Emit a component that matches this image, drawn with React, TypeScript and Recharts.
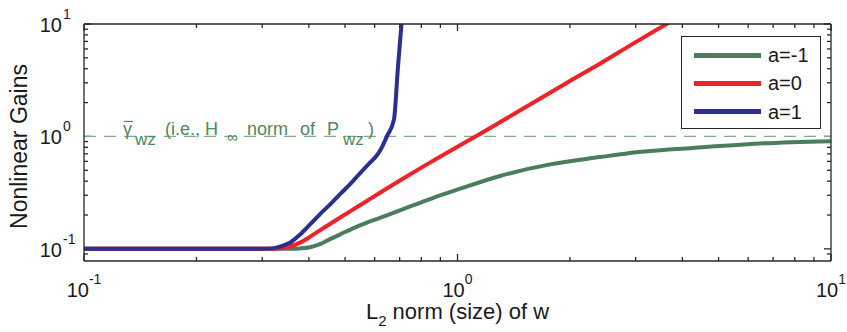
import { Label, Legend, Line, LineChart, ReferenceLine, XAxis, YAxis } from "recharts";

// values (log-log)
const xGreen = [0.1, 0.2, 0.3, 0.35, 0.379, 0.403, 0.428, 0.456, 0.484, 0.548, 0.62, 0.701, 0.794, 0.898, 1.016, 1.3, 1.77, 2.41, 2.84, 4.27, 6.45, 10];
const yGreen = [0.1, 0.1, 0.1, 0.1, 0.101, 0.1035, 0.11, 0.122, 0.134, 0.162, 0.189, 0.22, 0.257, 0.299, 0.343, 0.445, 0.564, 0.655, 0.706, 0.79, 0.866, 0.908];

const xRed = [0.1, 0.2, 0.3, 0.335, 0.356, 0.379, 0.403, 0.428, 0.484, 0.548, 0.62, 0.701, 0.794, 0.898, 1.13, 1.5, 2, 2.41, 3, 3.6, 4];
const yRed = [0.1, 0.1, 0.1, 0.101, 0.105, 0.1136, 0.128, 0.146, 0.189, 0.244, 0.316, 0.406, 0.52, 0.66, 1.02, 1.77, 3.11, 4.45, 6.9, 9.85, 12.1];

const xBlue = [0.1, 0.2, 0.3, 0.32, 0.335, 0.356, 0.379, 0.403, 0.428, 0.456, 0.484, 0.515, 0.548, 0.583, 0.605, 0.624, 0.647, 0.676, 0.692, 0.708, 0.72];
const yBlue = [0.1, 0.1, 0.1, 0.101, 0.105, 0.1136, 0.1345, 0.165, 0.203, 0.249, 0.305, 0.374, 0.469, 0.584, 0.664, 0.774, 1.0, 1.416, 3.94, 10, 20];

const seriesNames = ["a=-1", "a=0", "a=1"];
const seriesColors = ["#4a7d5b", "#ee2229", "#2b2f8f"];

const xTicks = [0.1, 0.2, 0.3, 0.4, 0.5, 0.6, 0.7, 0.8, 0.9, 1, 2, 3, 4, 5, 6, 7, 8, 9, 10];
const yTicks = [0.09, 0.1, 0.2, 0.3, 0.4, 0.5, 0.6, 0.7, 0.8, 0.9, 1, 2, 3, 4, 5, 6, 7, 8, 9, 10];
const gammaLevel = 1;

const X_MIN = 0.1;
const X_MAX = 10;
const Y_MIN = 0.078;
const Y_MAX = 10;

const toPoints = (xs: number[], ys: number[]) => xs.map((x, i) => ({ x, y: ys[i] }));
const series = [
  { name: seriesNames[0], color: seriesColors[0], data: toPoints(xGreen, yGreen) },
  { name: seriesNames[1], color: seriesColors[1], data: toPoints(xRed, yRed) },
  { name: seriesNames[2], color: seriesColors[2], data: toPoints(xBlue, yBlue) },
];

const AXIS = "#262626";
const TEXT = "#1a1a1a";
const FONT = "'Liberation Sans', Arial, Helvetica, sans-serif";
const NOTE = "#4f8762";

const isDecade = (v: number) => Math.abs(Math.log10(v) - Math.round(Math.log10(v))) < 1e-6;
const expOf = (v: number) => String(Math.round(Math.log10(v)));

// inward tick marks as short reference segments: length in px turned into a
// multiplicative step on the log axes (747px / 2 decades, 237px / ~2.1 decades)
const PX_PER_DECADE_X = 373.5;
const PX_PER_DECADE_Y = 112.4;
const tickPx = (v: number) => (isDecade(v) ? 7 : 4);
const stepX = (v: number) => Math.pow(10, tickPx(v) / PX_PER_DECADE_X);
const stepY = (v: number) => Math.pow(10, tickPx(v) / PX_PER_DECADE_Y);

const tickSegments = [
  ...xTicks.map((v) => [{ x: v, y: Y_MIN }, { x: v, y: Y_MIN * stepY(v) }]),
  ...xTicks.map((v) => [{ x: v, y: Y_MAX }, { x: v, y: Y_MAX / stepY(v) }]),
  ...yTicks.map((v) => [{ x: X_MIN, y: v }, { x: X_MIN * stepX(v), y: v }]),
  ...yTicks.map((v) => [{ x: X_MAX, y: v }, { x: X_MAX / stepX(v), y: v }]),
];

const PLOT_BOTTOM = 261;
const PLOT_LEFT = 84;

function BottomLabel(props: any) {
  const x = Number(props.x);
  const v = Number(props.payload.value);
  if (!isDecade(v)) return <g />;
  return (
    <text x={x} y={PLOT_BOTTOM + 36} textAnchor="middle" fontSize={20} fill={TEXT} fontFamily={FONT}>
      10
      <tspan dy={-13} fontSize={14}>
        {expOf(v)}
      </tspan>
    </text>
  );
}

function LeftLabel(props: any) {
  const y = Number(props.y);
  const v = Number(props.payload.value);
  if (!isDecade(v)) return <g />;
  return (
    <g fontFamily={FONT} fill={TEXT}>
      <text x={PLOT_LEFT - 22} y={y + 8} textAnchor="end" fontSize={20}>
        10
      </text>
      <text x={PLOT_LEFT - 21} y={y - 5} fontSize={14}>
        {expOf(v)}
      </text>
    </g>
  );
}

function XTitle() {
  return (
    <text x={457.5} y={PLOT_BOTTOM + 58} textAnchor="middle" fontSize={22} fill={TEXT} fontFamily={FONT}>
      L
      <tspan dy={7} fontSize={15}>
        2
      </tspan>
      <tspan dy={-7}> norm (size) of w</tspan>
    </text>
  );
}

function YTitle() {
  const cx = PLOT_LEFT - 57;
  const cy = 146.5;
  return (
    <text x={cx} y={cy} transform={`rotate(-90, ${cx}, ${cy})`} textAnchor="middle" fontSize={23} fill={TEXT} fontFamily={FONT}>
      Nonlinear Gains
    </text>
  );
}

function GammaNote(props: any) {
  const vb = props.viewBox;
  const x0 = vb.x + 39;
  const b = vb.y - 1;
  return (
    <g fill={NOTE} fontFamily={FONT} fontSize={18}>
      <line x1={x0 + 1} x2={x0 + 10} y1={b - 14} y2={b - 14} stroke={NOTE} strokeWidth={1.2} />
      <text x={x0} y={b}>γ</text>
      <text x={x0 + 12} y={b + 10} fontSize={17}>wz</text>
      <text x={x0 + 42} y={b}>(i.e., H</text>
      <text x={x0 + 104} y={b + 7} fontSize={15}>∞</text>
      <text x={x0 + 124} y={b}>norm</text>
      <text x={x0 + 177} y={b}>of</text>
      <text x={x0 + 204} y={b}>P</text>
      <text x={x0 + 220} y={b + 10} fontSize={17}>wz</text>
      <text x={x0 + 245} y={b}>)</text>
    </g>
  );
}

function LegendBox(props: any) {
  const items = props.payload ?? [];
  return (
    <div
      style={{
        position: "relative",
        width: 140,
        height: 93,
        boxSizing: "border-box",
        border: "1.3px solid #262626",
        background: "#fff",
        fontFamily: FONT,
      }}
    >
      {items.map((item: any, i: number) => (
        <div
          key={item.value}
          style={{ position: "absolute", left: 12, top: 4 + i * 28.3, height: 28, display: "flex", alignItems: "center" }}
        >
          <span style={{ display: "inline-block", width: 67, height: 5, background: item.color }} />
          <span style={{ marginLeft: 7, fontSize: 20, color: TEXT, lineHeight: "28px" }}>{item.value}</span>
        </div>
      ))}
    </div>
  );
}

const axisLine = { stroke: AXIS, strokeWidth: 1.3 };
const xCommon = {
  dataKey: "x",
  type: "number" as const,
  scale: "log" as const,
  domain: [X_MIN, X_MAX],
  ticks: xTicks,
  interval: 0 as const,
  allowDataOverflow: true,
  mirror: true,
  height: 1,
  tickSize: 0,
  tickMargin: 0,
  tickLine: false,
  axisLine,
};
const yCommon = {
  type: "number" as const,
  scale: "log" as const,
  domain: [Y_MIN, Y_MAX],
  ticks: yTicks,
  interval: 0 as const,
  allowDataOverflow: true,
  mirror: true,
  width: 1,
  tickSize: 0,
  tickMargin: 0,
  tickLine: false,
  axisLine,
};

export default function App() {
  return (
    <div style={{ width: 847, height: 332, background: "#fff" }}>
      <style>{"body{margin:0;background:#fff}"}</style>
      <LineChart width={847} height={332} margin={{ top: 24, right: 16, bottom: 71, left: 84 }}>
        <XAxis {...xCommon} tick={(p: any) => <BottomLabel {...p} />}>
          <Label content={() => <XTitle />} />
        </XAxis>
        <XAxis {...xCommon} xAxisId="top" orientation="top" tick={false} />
        <YAxis {...yCommon} tick={(p: any) => <LeftLabel {...p} />}>
          <Label content={() => <YTitle />} />
        </YAxis>
        <YAxis {...yCommon} yAxisId="right" orientation="right" tick={false} />
        {tickSegments.map((seg, i) => (
          <ReferenceLine key={`tick-${i}`} segment={seg} stroke={AXIS} strokeWidth={1.3} />
        ))}
        <ReferenceLine
          y={gammaLevel}
          stroke="#80a98d"
          strokeWidth={1.3}
          strokeDasharray="12 8"
          label={(p: any) => <GammaNote {...p} />}
        />
        {series.map((s) => (
          <Line
            key={s.name}
            data={s.data}
            dataKey="y"
            name={s.name}
            type="monotone"
            stroke={s.color}
            strokeWidth={4}
            dot={false}
            activeDot={false}
            isAnimationActive={false}
          />
        ))}
        <Legend
          layout="vertical"
          align="center"
          verticalAlign="middle"
          width={140}
          height={93}
          wrapperStyle={{ left: 681, top: 36, width: 140, height: 93 }}
          content={(p: any) => <LegendBox {...p} />}
        />
      </LineChart>
    </div>
  );
}
